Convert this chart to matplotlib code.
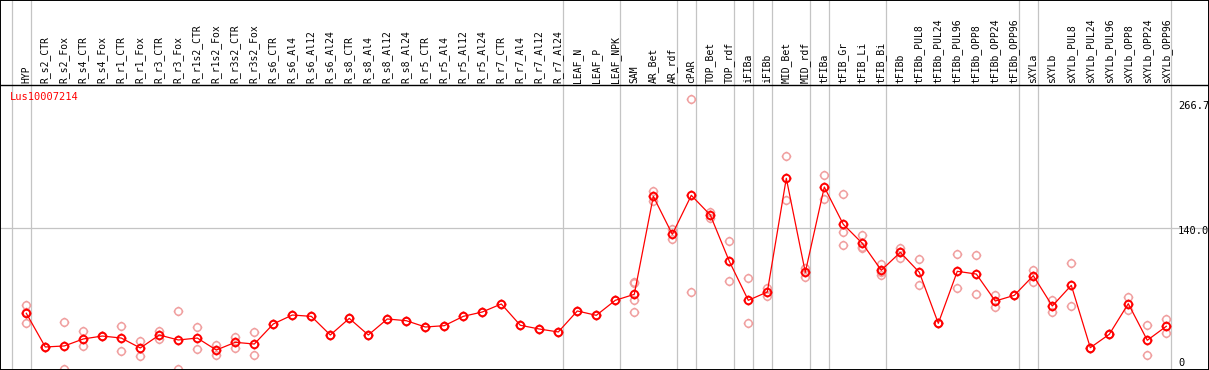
import numpy as np
import matplotlib
matplotlib.use("Agg")
import matplotlib.pyplot as plt
from matplotlib.path import Path

# ---------------- data ----------------
categories = [
    "HYP", "R_s2_CTR", "R_s2_Fox", "R_s4_CTR", "R_s4_Fox", "R_r1_CTR", "R_r1_Fox",
    "R_r3_CTR", "R_r3_Fox", "R_r1s2_CTR", "R_r1s2_Fox", "R_r3s2_CTR", "R_r3s2_Fox",
    "R_s6_CTR", "R_s6_Al4", "R_s6_Al12", "R_s6_Al24", "R_s8_CTR", "R_s8_Al4",
    "R_s8_Al12", "R_s8_Al24", "R_r5_CTR", "R_r5_Al4", "R_r5_Al12", "R_r5_Al24",
    "R_r7_CTR", "R_r7_Al4", "R_r7_Al12", "R_r7_Al24", "LEAF_N", "LEAF_P", "LEAF_NPK",
    "SAM", "AR_Bet", "AR_rdf", "cPAR", "TOP_Bet", "TOP_rdf", "iFIBa", "iFIBb",
    "MID_Bet", "MID_rdf", "tFIBa", "tFIB_Gr", "tFIB_Li", "tFIB_Bi", "tFIBb",
    "tFIBb_PUL8", "tFIBb_PUL24", "tFIBb_PUL96", "tFIBb_OPP8", "tFIBb_OPP24",
    "tFIBb_OPP96", "sXYLa", "sXYLb", "sXYLb_PUL8", "sXYLb_PUL24", "sXYLb_PUL96",
    "sXYLb_OPP8", "sXYLb_OPP24", "sXYLb_OPP96",
]

mean_values = [
    55.9, 22.7, 23.7, 30.6, 33.5, 31.5, 21.7, 34.5, 29.6, 31.5, 19.7, 27.3, 25.6,
    45.4, 54.2, 52.9, 34.5, 50.9, 34.5, 50.3, 48.6, 42.4, 43.7, 52.9, 57.2,
    65.1, 44.1, 40.4, 37.5, 58.2, 53.9, 68.7,
    74.6, 171.2, 133.8, 172.2, 152.8, 107.2, 68.7, 76.9,
    189.0, 96.3, 180.4, 143.6, 124.9, 98.3, 116.0,
    96.3, 46.0, 97.3, 94.6, 68.0, 73.6,
    93.0, 63.1, 83.5, 22.0, 35.2, 65.4, 29.3, 43.1,
]

replicates = [
    [64.1, 57.0, 46.3], [23.0, 22.4], [47.0, 0.5], [38.5, 23.7], [33.5, 33.5],
    [43.1, 18.7], [28.6, 13.8], [38.5, 30.6], [58.2, 1.0], [42.4, 20.7],
    [24.6, 14.8], [32.9, 21.4], [37.5, 14.8],
    [45.4], [54.2], [52.9], [34.5], [50.9], [34.5], [50.3], [48.6], [42.4],
    [43.7], [52.9], [57.2], [65.1], [44.1], [40.4], [37.5], [58.2], [53.9], [68.7],
    [87.0, 86.0, 69.0, 57.0], [176.5, 166.3], [138.7, 128.9], [266.7, 76.6],
    [155.4, 150.2], [126.9, 87.4], [90.4, 46.3], [80.5, 73.3],
    [210.7, 167.3], [100.3, 92.0], [192.0, 168.8], [173.2, 135.7, 123.2],
    [133.1, 121.6, 120.0], [104.5, 93.7, 96.7], [120.6, 110.7, 116.7],
    [109.1, 83.5], [46.0, 46.0], [114.1, 80.5], [113.1, 74.6], [73.6, 62.4],
    [73.6, 73.6], [98.9, 87.1], [69.0, 56.9], [105.2, 62.8], [22.0, 22.0],
    [35.2, 35.2], [72.0, 59.2], [44.1, 14.5], [50.0, 36.2],
]

# last index of each group (gray separator drawn after it); -1 = left edge
group_ends = [-1, 0, 28, 31, 34, 35, 37, 38, 39, 41, 42, 45, 52, 53, 60]

axis_labels = ["266.7", "140.0", "0"]
axis_values = [266.7, 140.0, 0.0]
gene_id = "Lus10007214"

# ---------------- layout ----------------
W, H = 1209, 370
X0, DX = 26.3, 19.0          # pixel x of first category, spacing
PXU = 1.0143                 # pixels per data unit
Y0 = 370                     # pixel y of value 0


def ypx(p):
    return (Y0 - p) / PXU


fig = plt.figure(figsize=(W / 100, H / 100), dpi=100)
ax = fig.add_axes([0, 0, 1, 1])
ax.set_xlim(-X0 / DX, (W - X0) / DX)
ax.set_ylim(0, Y0 / PXU)
ax.set_xticks([])
ax.set_yticks([])
for s in ax.spines.values():
    s.set_color("black")
    s.set_linewidth(1.4)

mono = "DejaVu Sans Mono"

# separators
for k in group_ends:
    ax.axvline(k + 0.24, color="#c4c4c4", lw=0.9, zorder=1)
ax.axhline(140.0, color="#c4c4c4", lw=0.9, zorder=1)
ax.axhline(ypx(85), color="black", lw=1.0, zorder=5)

# header labels
x = np.arange(len(categories))
for i, c in enumerate(categories):
    ax.text(i, ypx(83), c, rotation=90, ha="center", va="bottom",
            fontsize=7, family=mono, color="black", zorder=6)

# marker: circle with four small ticks
th = np.linspace(0, 2 * np.pi, 33)
verts = [(np.cos(t), np.sin(t)) for t in th]
codes = [Path.MOVETO] + [Path.LINETO] * 32
for a, b in [((1, 0), (1.3, 0)), ((-1, 0), (-1.3, 0)),
             ((0, 1), (0, 1.3)), ((0, -1), (0, -1.3))]:
    verts += [a, b]
    codes += [Path.MOVETO, Path.LINETO]
mk = Path(verts, codes)

# replicates
rx = [i for i, r in enumerate(replicates) for _ in r]
ry = [v for r in replicates for v in r]
ax.plot(rx, ry, ls="none", marker=mk, ms=7.0, mfc="none", mec="#f0a0a0",
        mew=1.1, zorder=2)

# mean line
ax.plot(x, mean_values, color="#ff0000", lw=0.9, zorder=3)
ax.plot(x, mean_values, ls="none", marker=mk, ms=7.0, mfc="none",
        mec="#ff0000", mew=1.4, zorder=4)

# value labels on the right
lx = (1178 - X0) / DX
ax.text(lx, ypx(101), axis_labels[0], ha="left", va="top", fontsize=7.5,
        family=mono, color="black")
ax.text(lx, ypx(226), axis_labels[1], ha="left", va="top", fontsize=7.5,
        family=mono, color="black")
ax.text(lx, ypx(368), axis_labels[2], ha="left", va="bottom", fontsize=7.5,
        family=mono, color="black")

ax.text((10 - X0) / DX, ypx(97), gene_id, ha="left", va="center",
        fontsize=7.5, family=mono, color="#ff0000")

fig.savefig("out.png", dpi=100)
